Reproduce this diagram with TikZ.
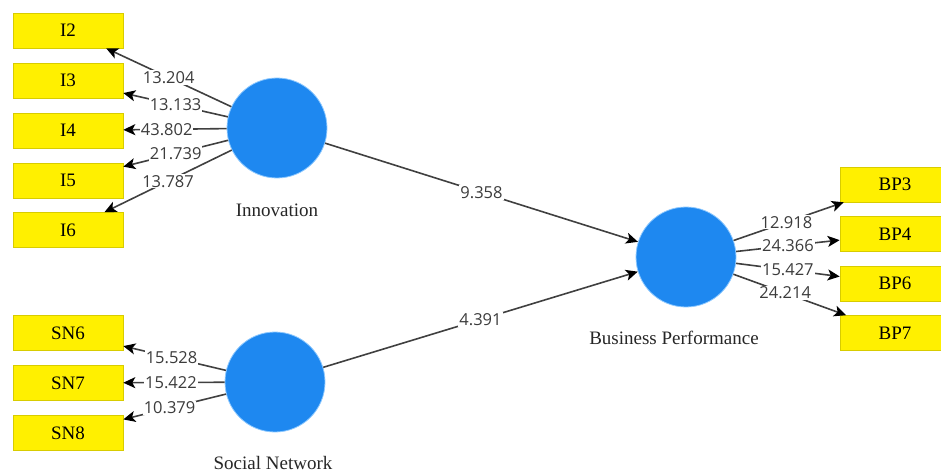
\documentclass[tikz,border=0pt]{standalone}
\usepackage{fontspec}
\setmainfont{Liberation Serif}
\newfontfamily\numfont{Open Sans}
\usetikzlibrary{arrows.meta}
\definecolor{lvblue}{HTML}{1E88F0}
\definecolor{lvrim}{HTML}{8CC8FF}
\definecolor{mvyellow}{HTML}{FFF000}
\definecolor{mvrim}{HTML}{D8CC00}
\definecolor{edgegray}{HTML}{404040}
\definecolor{numgray}{HTML}{3C3C3C}
\tikzset{
  latent/.style={circle, fill=lvblue, draw=lvrim, line width=0.8pt, minimum size=100pt, inner sep=0pt},
  manifest/.style={rectangle, fill=mvyellow, draw=mvrim, line width=0.6pt, minimum width=110pt, minimum height=35pt, inner sep=0pt, font=\fontsize{19}{19}\selectfont},
  lvlabel/.style={font=\fontsize{19}{19}\selectfont, text=black!85},
  link/.style={draw=edgegray, line width=1.6pt, -{Stealth[length=12pt,width=11pt,inset=3pt,color=black]}},
  coef/.style={fill=white, inner sep=1pt, font=\numfont\fontsize{16.5}{16.5}\selectfont, text=numgray}
}
\begin{document}
\begin{tikzpicture}[x=1pt,y=-1pt]
\useasboundingbox (0,0) rectangle (941,473);
% latent variables
\node[latent] (inn) at (277,128) {};
\node[latent] (sn) at (275,382) {};
\node[latent] (bp) at (686,257) {};
\node[lvlabel] (innl) at (277,210) {Innovation};
\node[lvlabel] (snl) at (273,463) {Social Network};
\node[lvlabel] (bpl) at (674,338) {Business Performance};
% indicators
\node[manifest] (i2) at (68,30.5) {I2};
\node[manifest] (i3) at (68,80.5) {I3};
\node[manifest] (i4) at (68,130.5) {I4};
\node[manifest] (i5) at (68,180.5) {I5};
\node[manifest] (i6) at (68,230) {I6};
\node[manifest] (sn6) at (68,333) {SN6};
\node[manifest] (sn7) at (68,383) {SN7};
\node[manifest] (sn8) at (68,433) {SN8};
\node[manifest] (bp3) at (895,184.5) {BP3};
\node[manifest] (bp4) at (895,234) {BP4};
\node[manifest] (bp6) at (895,283.5) {BP6};
\node[manifest] (bp7) at (895,333) {BP7};
% outer loadings
\draw[link] (inn) -- node[coef] {13.204} (i2);
\draw[link] (inn) -- node[coef] {13.133} (i3);
\draw[link] (inn) -- node[coef, pos=0.58] {43.802} (i4);
\draw[link] (inn) -- node[coef] {21.739} (i5);
\draw[link] (inn) -- node[coef] {13.787} (i6);
\draw[link] (sn) -- node[coef, pos=0.53] {15.528} (sn6);
\draw[link] (sn) -- node[coef, pos=0.53] {15.422} (sn7);
\draw[link] (sn) -- node[coef, pos=0.55] {10.379} (sn8);
\draw[link] (bp) -- node[coef, pos=0.48] {12.918} (bp3);
\draw[link] (bp) -- node[coef] {24.366} (bp4);
\draw[link] (bp) -- node[coef] {15.427} (bp6);
\draw[link] (bp) -- node[coef, pos=0.46] {24.214} (bp7);
% structural paths
\draw[link] (inn) -- node[coef] {9.358} (bp);
\draw[link] (sn) -- node[coef] {4.391} (bp);
\end{tikzpicture}
\end{document}
